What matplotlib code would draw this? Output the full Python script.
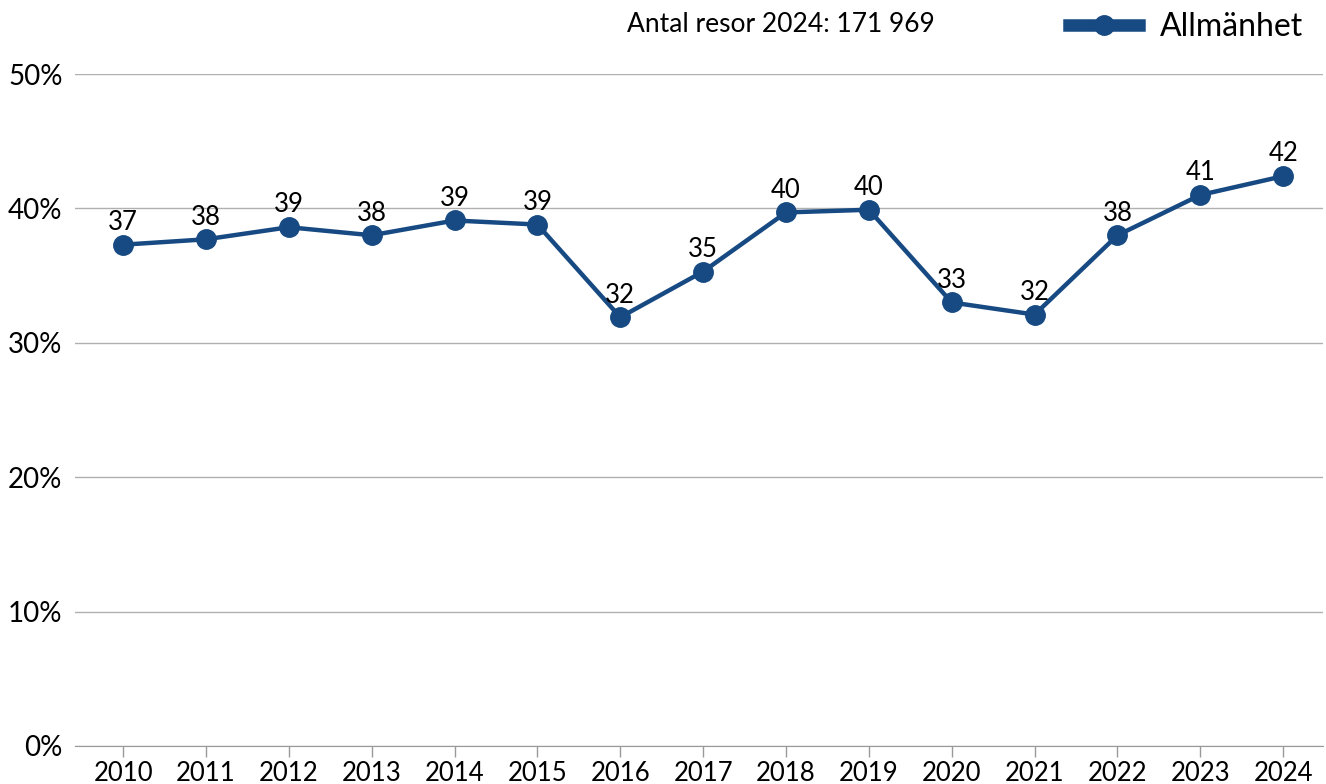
import matplotlib
matplotlib.use("Agg")
from matplotlib import pyplot as plt
from matplotlib.lines import Line2D

plt.rcParams['font.family'] = ['Lato', 'DejaVu Sans']

years = [2010, 2011, 2012, 2013, 2014, 2015, 2016, 2017, 2018, 2019,
         2020, 2021, 2022, 2023, 2024]
share = [37.3, 37.7, 38.6, 38.0, 39.1, 38.8, 31.9, 35.3, 39.7, 39.9,
         33.0, 32.1, 38.0, 41.0, 42.4]
labels = ["37", "38", "39", "38", "39", "39", "32", "35", "40", "40",
          "33", "32", "38", "41", "42"]
y_ticks = [0, 10, 20, 30, 40, 50]
series_name = "Allmänhet"
note = "Antal resor 2024: 171 969"

blue = "#174a82"

fig = plt.figure(figsize=(13.26, 7.84), dpi=100)
ax = fig.add_axes([75/1326, 1 - 746/784, (1323-75)/1326, (746-74)/784])

x = list(range(len(years)))
ax.plot(x, share, color=blue, lw=3.2, marker='o', ms=14)

for xi, yi, lab in zip(x, share, labels):
    ax.annotate(lab, (xi, yi), xytext=(0, 7), textcoords='offset points',
                ha='center', va='bottom', fontsize=18.5, color='black')

ax.set_xlim(-0.58, 14.48)
ax.set_ylim(0, 50)
ax.set_xticks(x)
ax.set_xticklabels([str(y) for y in years])
ax.set_yticks(y_ticks)
ax.set_yticklabels(["%d%%" % v for v in y_ticks])
ax.tick_params(axis='x', length=8, width=1, color='#999999', labelsize=18.5, pad=3)
ax.tick_params(axis='y', length=0, labelsize=20, pad=9)
ax.yaxis.grid(True, color='#b0b0b0', lw=1)
ax.set_axisbelow(True)
for s in ['top', 'right', 'left']:
    ax.spines[s].set_visible(False)
ax.spines['bottom'].set_color('#999999')

fig.text(781/1326, 1 - 25/784, note, ha='center', va='center', fontsize=19)

handle = Line2D([], [], color=blue, lw=9, marker='o', ms=14)
fig.legend([handle], [series_name], loc='center left',
           bbox_to_anchor=(1056/1326, 1 - 27/784), frameon=False,
           fontsize=23, handlelength=2.2, handletextpad=0.65, borderaxespad=0)

fig.savefig('out.png', dpi=100)
